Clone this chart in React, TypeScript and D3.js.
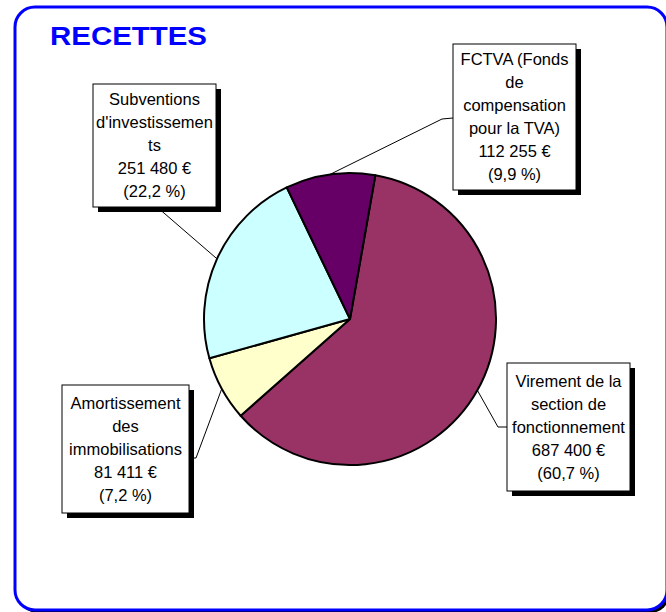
import React from "react";
import * as d3 from "d3";

const categories = [
  "Virement de la section de fonctionnement",
  "Amortissement des immobilisations",
  "Subventions d'investissements",
  "FCTVA (Fonds de compensation pour la TVA)",
];
const labelLines = [
  ["Virement de la", "section de", "fonctionnement"],
  ["Amortissement", "des", "immobilisations"],
  ["Subventions", "d'investissemen", "ts"],
  ["FCTVA (Fonds", "de", "compensation", "pour la TVA)"],
];
const values = [687400, 81411, 251480, 112255];
const colors = ["#993366", "#FFFFCC", "#CCFFFF", "#660066"];

// label box layout: [x, y, w, h] and leader elbow/end points
const boxes = [
  { x: 507, y: 363, w: 123, h: 128, elbow: [498, 427], end: [507, 427] },
  { x: 62, y: 385, w: 127, h: 128, elbow: [196, 458], end: [189, 458] },
  { x: 93, y: 84, w: 123, h: 123, elbow: [157, 207], end: [157, 207] },
  { x: 453, y: 44, w: 123, h: 146, elbow: [442, 119], end: [453, 118] },
];

const fr = d3.formatLocale({ decimal: ",", thousands: " ", grouping: [3], currency: ["", " €"] });
const fmtInt = fr.format(",d");
const fmtPct = fr.format(".1f");

export default function App() {
  const cx = 350, cy = 319, r = 146;
  const total = d3.sum(values);
  const pie = d3
    .pie<number>()
    .sort(null)
    .value((d) => d)
    .startAngle((10 * Math.PI) / 180)
    .endAngle((10 * Math.PI) / 180 + 2 * Math.PI);
  const arcs = pie(values);
  const arc = d3.arc<d3.PieArcDatum<number>>().innerRadius(0).outerRadius(r);
  const lineGap = 23;

  return (
    <svg width={666} height={612} style={{ position: "absolute", left: 0, top: 0 }} fontFamily="'Liberation Sans', Arial, sans-serif">
      <rect x={0} y={0} width={666} height={612} fill="#fff" />
      <rect x={18} y={10} width={652} height={603} rx={20} fill="#000" />
      <rect x={15} y={7} width={652} height={603} rx={20} fill="#fff" stroke="#0000FF" strokeWidth={3} />
      <text x={50} y={45} fontSize={25} fontWeight="bold" fill="#0000FF" textLength={157} lengthAdjust="spacingAndGlyphs">
        RECETTES
      </text>
      {/* leader lines */}
      {arcs.map((a, i) => {
        const mid = (a.startAngle + a.endAngle) / 2;
        const sx = cx + r * Math.sin(mid);
        const sy = cy - r * Math.cos(mid);
        const b = boxes[i];
        return (
          <polyline
            key={"l" + i}
            points={`${sx},${sy} ${b.elbow[0]},${b.elbow[1]} ${b.end[0]},${b.end[1]}`}
            fill="none"
            stroke="#000"
            strokeWidth={1}
          />
        );
      })}
      <g transform={`translate(${cx},${cy})`}>
        {arcs.map((a, i) => (
          <path key={i} d={arc(a) || ""} fill={colors[i]} stroke="#000" strokeWidth={2} strokeLinejoin="round" />
        ))}
      </g>
      {arcs.map((a, i) => {
        const b = boxes[i];
        const lines = [...labelLines[i], fmtInt(values[i]) + " €", "(" + fmtPct((values[i] / total) * 100) + " %)"];
        const firstY = b.y + b.h / 2 - ((lines.length - 1) * lineGap) / 2;
        return (
          <g key={"b" + i}>
            <rect x={b.x + 5} y={b.y + 5} width={b.w} height={b.h} fill="#000" />
            <rect x={b.x} y={b.y} width={b.w} height={b.h} fill="#fff" stroke="#000" strokeWidth={1} />
            {lines.map((t, j) => (
              <text
                key={j}
                x={b.x + b.w / 2}
                y={firstY + j * lineGap}
                dy="0.36em"
                textAnchor="middle"
                fontSize={16.5}
                fill="#000"
              >
                {t}
              </text>
            ))}
          </g>
        );
      })}
    </svg>
  );
}
